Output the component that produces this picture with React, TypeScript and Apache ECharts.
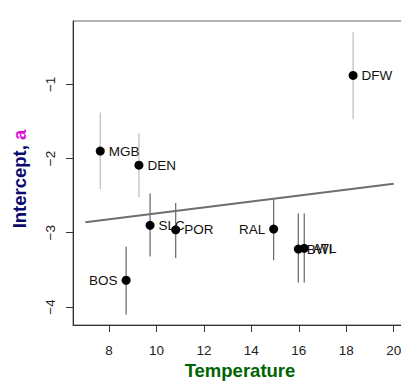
import React, { useEffect, useRef } from "react";
import * as echarts from "echarts";

const cities = ["MGB", "DEN", "DFW", "SLC", "POR", "BOS", "RAL", "BWI", "ATL"];
const temps = [7.63, 9.26, 18.29, 9.73, 10.81, 8.72, 14.94, 15.98, 16.23];
const intercepts = [-1.9, -2.09, -0.88, -2.9, -2.96, -3.64, -2.95, -3.22, -3.21];
const lower = [-2.41, -2.52, -1.47, -3.32, -3.34, -4.1, -3.37, -3.67, -3.67];
const upper = [-1.38, -1.66, -0.3, -2.47, -2.6, -3.19, -2.55, -2.74, -2.74];
const barShade = ["light", "light", "light", "dark", "dark", "dark", "dark", "dark", "dark"];
const labelSide = ["right", "right", "right", "right", "right", "left", "left", "right", "right"];
const fitX = [7, 20];
const fitY = [-2.86, -2.34];
const xTicks = [8, 10, 12, 14, 16, 18, 20];
const yTicks = [-4, -3, -2, -1];

export default function App() {
  const ref = useRef<HTMLDivElement>(null);
  useEffect(() => {
    const chart = echarts.init(ref.current!, null, { renderer: "svg" });
    const font = "'Liberation Sans', Arial, Helvetica, sans-serif";
    chart.setOption({
      animation: false,
      textStyle: { fontFamily: font },
      grid: {
        left: 73,
        top: 21,
        width: 333,
        height: 304,
        show: true,
        borderColor: "#666",
        borderWidth: 1,
        backgroundColor: "transparent",
        outerBoundsMode: "none",
        containLabel: false,
      },
      xAxis: {
        type: "value",
        min: 6.48,
        max: 20.52,
        splitLine: { show: false },
        axisLine: { show: true, onZero: false, lineStyle: { color: "#333", width: 1 } },
        axisTick: { show: true, length: 7, lineStyle: { color: "#333" }, customValues: xTicks },
        axisLabel: { customValues: xTicks, margin: 18, fontSize: 13.5, color: "#222", fontFamily: font },
      },
      yAxis: {
        type: "value",
        min: -4.243,
        max: -0.147,
        splitLine: { show: false },
        axisLine: { show: true, onZero: false, lineStyle: { color: "#333", width: 1 } },
        axisTick: { show: true, length: 7, lineStyle: { color: "#333" }, customValues: yTicks },
        axisLabel: {
          customValues: yTicks,
          rotate: 90,
          margin: 16,
          fontSize: 13.5,
          color: "#222",
          fontFamily: font,
          formatter: (v: number) => String(v).replace("-", "\u2212"),
        },
      },
      graphic: [
        {
          type: "text",
          x: 240,
          y: 370,
          style: {
            text: "Temperature",
            fill: "#006400",
            font: `bold 18.5px ${font}`,
            textAlign: "center",
            textVerticalAlign: "middle",
          },
        },
        {
          type: "text",
          x: 19,
          y: 179,
          rotation: Math.PI / 2,
          style: {
            text: "{n|Intercept, }{m|a}",
            rich: {
              n: { fill: "#0b0b6e", font: `bold 18.5px ${font}` },
              m: { fill: "#e010d8", font: `bold 18.5px ${font}` },
            },
            textAlign: "center",
            textVerticalAlign: "middle",
          },
        },
      ],
      series: [
        {
          type: "custom",
          z: 2,
          data: temps.map((t, i) => [t, lower[i], upper[i], barShade[i] === "light" ? 1 : 0]),
          renderItem: (params: any, api: any) => {
            const p1 = api.coord([api.value(0), api.value(1)]);
            const p2 = api.coord([api.value(0), api.value(2)]);
            return {
              type: "line",
              shape: { x1: p1[0], y1: p1[1], x2: p2[0], y2: p2[1] },
              style: { stroke: api.value(3) ? "#bdbdbd" : "#666", lineWidth: 1.2 },
            };
          },
        },
        {
          type: "line",
          z: 3,
          data: fitX.map((x, i) => [x, fitY[i]]),
          showSymbol: false,
          lineStyle: { color: "#6e6e6e", width: 2 },
        },
        {
          type: "scatter",
          z: 4,
          symbolSize: 9,
          itemStyle: { color: "#000", opacity: 1 },
          data: temps.map((t, i) => ({
            value: [t, intercepts[i]],
            label: {
              show: true,
              formatter: cities[i],
              position: labelSide[i],
              distance: 4,
              fontSize: 13.5,
              color: "#111",
              fontFamily: font,
            },
          })),
        },
      ],
    });
    return () => chart.dispose();
  }, []);
  return (
    <div style={{ position: "fixed", left: 0, top: 0, width: 401, height: 381, overflow: "hidden", background: "#fff" }}>
      <div ref={ref} style={{ width: 430, height: 381 }} />
    </div>
  );
}
